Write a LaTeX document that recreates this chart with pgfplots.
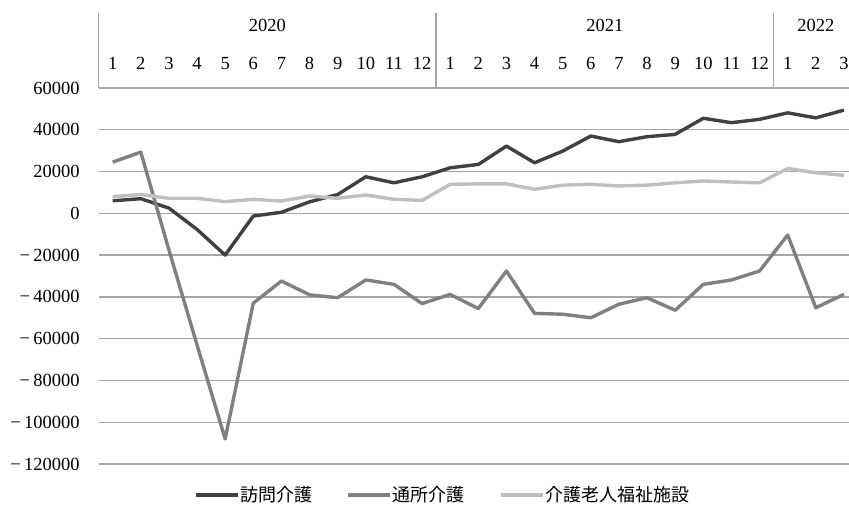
\documentclass[border=0pt]{standalone}
\usepackage{pgfplots}
\pgfplotsset{compat=1.18}
\usepackage{fontspec}
\setmainfont{Liberation Serif}
\newfontfamily\cjk{Noto Sans CJK JP}
\definecolor{cdark}{HTML}{404040}
\definecolor{cmid}{HTML}{808080}
\definecolor{clight}{HTML}{BFBFBF}
\definecolor{cgrid}{HTML}{A6A6A6}
\newcommand{\mn}{−\kern3.5bp}
\begin{document}
\fontsize{18.5bp}{21bp}\selectfont
\begin{tikzpicture}
\path[use as bounding box] (0,0) rectangle (849bp,514bp);
\begin{axis}[
  at={(98.6bp,50bp)}, anchor=south west,
  scale only axis, width=750.4bp, height=376bp,
  xmin=-0.5, xmax=26.18, ymin=-120000, ymax=60000,
  clip=false,
  scaled ticks=false,
  axis line style={draw=none},
  xtick={0,...,26},
  xticklabels={1,2,3,4,5,6,7,8,9,10,11,12,1,2,3,4,5,6,7,8,9,10,11,12,1,2,3},
  xticklabel pos=upper,
  xticklabel style={yshift=12bp},
  ytick={-120000,-100000,-80000,-60000,-40000,-20000,0,20000,40000,60000},
  yticklabels={\mn120000,\mn100000,\mn80000,\mn60000,\mn40000,\mn20000,0,20000,40000,60000},
  yticklabel style={xshift=-12.5bp},
  /pgf/number format/assume math mode=true,
  ticklabel style={font=\fontsize{18.5bp}{21bp}\selectfont},
  tick style={draw=none},
  ymajorgrids, grid style={cgrid, line width=1.3bp},
  legend style={at={(0.458,-0.0824)}, anchor=center, draw=none, legend columns=3,
    font=\cjk\fontsize{18bp}{20bp}\selectfont,
    /tikz/every even column/.append style={column sep=33bp},
    nodes={inner xsep=1bp}},
  legend image code/.code={\draw[#1] (0bp,0bp) -- (42bp,0bp);},
]
\addplot[cdark, line width=3.4bp, line join=round] coordinates {
(0,6000)(1,7000)(2,2500)(3,-7700)(4,-20000)(5,-1300)(6,500)(7,5500)(8,9000)(9,17500)(10,14600)(11,17500)
(12,21800)(13,23400)(14,32200)(15,24200)(16,29800)(17,37000)(18,34300)(19,36700)(20,37800)(21,45500)(22,43400)(23,45000)
(24,48100)(25,45700)(26,49400)};
\addlegendentry{訪問介護}
\addplot[cmid, line width=3.4bp, line join=round] coordinates {
(0,24500)(1,29300)(2,-17500)(3,-63000)(4,-108000)(5,-43000)(6,-32400)(7,-39000)(8,-40400)(9,-31900)(10,-34000)(11,-43200)
(12,-38800)(13,-45600)(14,-27600)(15,-47900)(16,-48300)(17,-50000)(18,-43500)(19,-40400)(20,-46400)(21,-34000)(22,-31900)(23,-27600)
(24,-10400)(25,-45200)(26,-38800)};
\addlegendentry{通所介護}
\addplot[clight, line width=3.4bp, line join=round] coordinates {
(0,8000)(1,9000)(2,7200)(3,7200)(4,5600)(5,6700)(6,5900)(7,8300)(8,7200)(9,8800)(10,6700)(11,6200)
(12,13900)(13,14100)(14,14100)(15,11500)(16,13500)(17,13900)(18,13100)(19,13500)(20,14600)(21,15500)(22,15000)(23,14600)
(24,21500)(25,19400)(26,18200)};
\addlegendentry{介護老人福祉施設}
\draw[cgrid, line width=1.3bp] (axis cs:-0.5,60000) -- (axis cs:-0.5,95800);
\draw[cgrid, line width=1.3bp] (axis cs:11.5,60000) -- (axis cs:11.5,95800);
\draw[cgrid, line width=1.3bp] (axis cs:23.5,60000) -- (axis cs:23.5,95800);
\node[anchor=center] at (axis cs:5.5,90000) {2020};
\node[anchor=center] at (axis cs:17.5,90000) {2021};
\node[anchor=center] at (axis cs:25,90000) {2022};
\end{axis}
\end{tikzpicture}
\end{document}
